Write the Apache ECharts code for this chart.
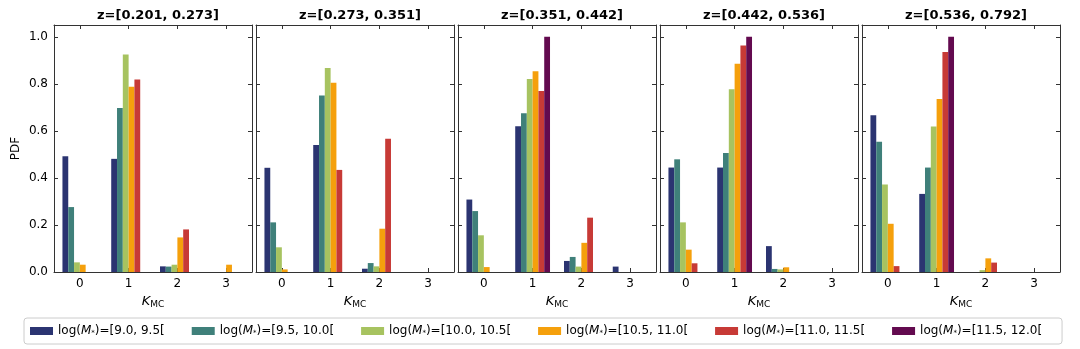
<!DOCTYPE html>
<html>
<head>
<meta charset="UTF-8">
<script src="https://cdn.jsdelivr.net/npm/echarts@6/dist/echarts.min.js"></script>
<style>
  html, body { margin: 0; padding: 0; background: #fff; }
  #main { width: 1080px; height: 349px; }
</style>
</head>
<body>
<div id="main"></div>
<script>
// K_MC values (x positions) and tick labels
var kmc = [0, 1, 2, 3];
var yTicks = [0, 0.2, 0.4, 0.6, 0.8, 1.0];

var zBins = ['z=[0.201, 0.273]', 'z=[0.273, 0.351]', 'z=[0.351, 0.442]', 'z=[0.442, 0.536]', 'z=[0.536, 0.792]'];
var massBins = ['[9.0, 9.5[', '[9.5, 10.0[', '[10.0, 10.5[', '[10.5, 11.0[', '[11.0, 11.5[', '[11.5, 12.0['];
var colors = ['#2b3471', '#3f807a', '#a7c360', '#f5a00c', '#c73a36', '#630a4f'];

// PDF per mass bin (rows) at K_MC = 0,1,2,3 (columns), one table per redshift bin
var pdfZ1 = [
  [0.492, 0.481, 0.024, 0],
  [0.276, 0.697, 0.023, 0],
  [0.041, 0.925, 0.031, 0],
  [0.031, 0.788, 0.147, 0.031],
  [0, 0.818, 0.181, 0],
  [0, 0, 0, 0]
];
var pdfZ2 = [
  [0.443, 0.540, 0.014, 0],
  [0.211, 0.750, 0.038, 0],
  [0.105, 0.867, 0.024, 0],
  [0.011, 0.805, 0.184, 0],
  [0, 0.434, 0.566, 0],
  [0, 0, 0, 0]
];
var pdfZ3 = [
  [0.308, 0.620, 0.047, 0.023],
  [0.259, 0.675, 0.064, 0],
  [0.156, 0.820, 0.023, 0],
  [0.021, 0.853, 0.124, 0],
  [0, 0.769, 0.231, 0],
  [0, 1.0, 0, 0]
];
var pdfZ4 = [
  [0.444, 0.444, 0.110, 0],
  [0.479, 0.506, 0.013, 0],
  [0.211, 0.777, 0.011, 0],
  [0.095, 0.885, 0.020, 0],
  [0.037, 0.963, 0, 0],
  [0, 1.0, 0, 0]
];
var pdfZ5 = [
  [0.666, 0.332, 0, 0],
  [0.554, 0.444, 0, 0],
  [0.372, 0.618, 0.008, 0],
  [0.205, 0.735, 0.058, 0],
  [0.025, 0.935, 0.040, 0],
  [0, 1.0, 0, 0]
];
var tables = [pdfZ1, pdfZ2, pdfZ3, pdfZ4, pdfZ5];

var font = 'DejaVu Sans';
var chart = echarts.init(document.getElementById('main'));

var grids = [], xAxes = [], yAxes = [], titles = [], series = [];
var axisLine = { show: true, onZero: false, lineStyle: { color: '#333', width: 1 } };
var tick = { show: true, inside: true, length: 4, lineStyle: { color: '#333' } };

for (var p = 0; p < 5; p++) {
  var left = 54 + p * 202;
  var width = 198;
  grids.push({ left: left, top: 25, width: width, height: 247, show: false });
  titles.push({
    text: zBins[p], left: left + width / 2, top: 4, textAlign: 'center',
    textStyle: { fontFamily: font, fontSize: 13, fontWeight: 'bold', color: '#000' }
  });
  // bottom and top x axes
  xAxes.push({
    type: 'value', gridIndex: p, min: -0.53, max: 3.53, position: 'bottom',
    axisLine: axisLine, axisTick: Object.assign({ customValues: kmc }, tick),
    axisLabel: { customValues: kmc, fontFamily: font, fontSize: 12, color: '#000', margin: 6 },
    splitLine: { show: false },
    name: '{k|K}{s|MC}', nameLocation: 'middle', nameGap: 22,
    nameTextStyle: {
      fontFamily: font, color: '#000',
      rich: { k: { fontSize: 13, fontStyle: 'italic', fontFamily: font }, s: { fontSize: 9, fontFamily: font, padding: [6, 0, 0, 0] } }
    }
  });
  xAxes.push({
    type: 'value', gridIndex: p, min: -0.53, max: 3.53, position: 'top',
    axisLine: axisLine, axisTick: Object.assign({ customValues: kmc }, tick),
    axisLabel: { show: false }, splitLine: { show: false }
  });
  yAxes.push({
    type: 'value', gridIndex: p, min: 0, max: 1.05, position: 'left',
    axisLine: axisLine, axisTick: Object.assign({ customValues: yTicks }, tick),
    axisLabel: {
      show: p === 0, customValues: yTicks, fontFamily: font, fontSize: 12, color: '#000', margin: 6,
      formatter: function (v) { return v.toFixed(1); }
    },
    splitLine: { show: false },
    name: p === 0 ? 'PDF' : '', nameLocation: 'middle', nameGap: 32, nameRotate: 90,
    nameTextStyle: { fontFamily: font, fontSize: 12, color: '#000' }
  });
  yAxes.push({
    type: 'value', gridIndex: p, min: 0, max: 1.05, position: 'right',
    axisLine: axisLine, axisTick: Object.assign({ customValues: yTicks }, tick),
    axisLabel: { show: false }, splitLine: { show: false }
  });

  for (var m = 0; m < 6; m++) {
    var data = kmc.map(function (k, i) { return [k, tables[p][m][i]]; });
    series.push({
      type: 'bar', name: massBins[m],
      xAxisIndex: p * 2, yAxisIndex: p * 2,
      barWidth: 5.8, barGap: '0%',
      itemStyle: { color: colors[m] },
      data: data, silent: true, animation: false
    });
  }
}

chart.setOption({
  animation: false,
  title: titles,
  grid: grids,
  xAxis: xAxes,
  yAxis: yAxes,
  legend: {
    data: massBins, left: 24, top: 318, width: 1045,
    padding: [7, 20, 7, 6], itemGap: 27, itemWidth: 23, itemHeight: 8,
    icon: 'rect', borderColor: '#ccc', borderWidth: 1, borderRadius: 3,
    formatter: function (name) { return 'log({i|M}{s|*})=' + name; },
    textStyle: {
      fontFamily: font, fontSize: 12, color: '#000',
      rich: {
        i: { fontStyle: 'italic', fontFamily: font, fontSize: 12 },
        s: { fontFamily: font, fontSize: 7, padding: [4, 0, 0, 0] }
      }
    }
  },
  series: series
});
</script>
</body>
</html>
